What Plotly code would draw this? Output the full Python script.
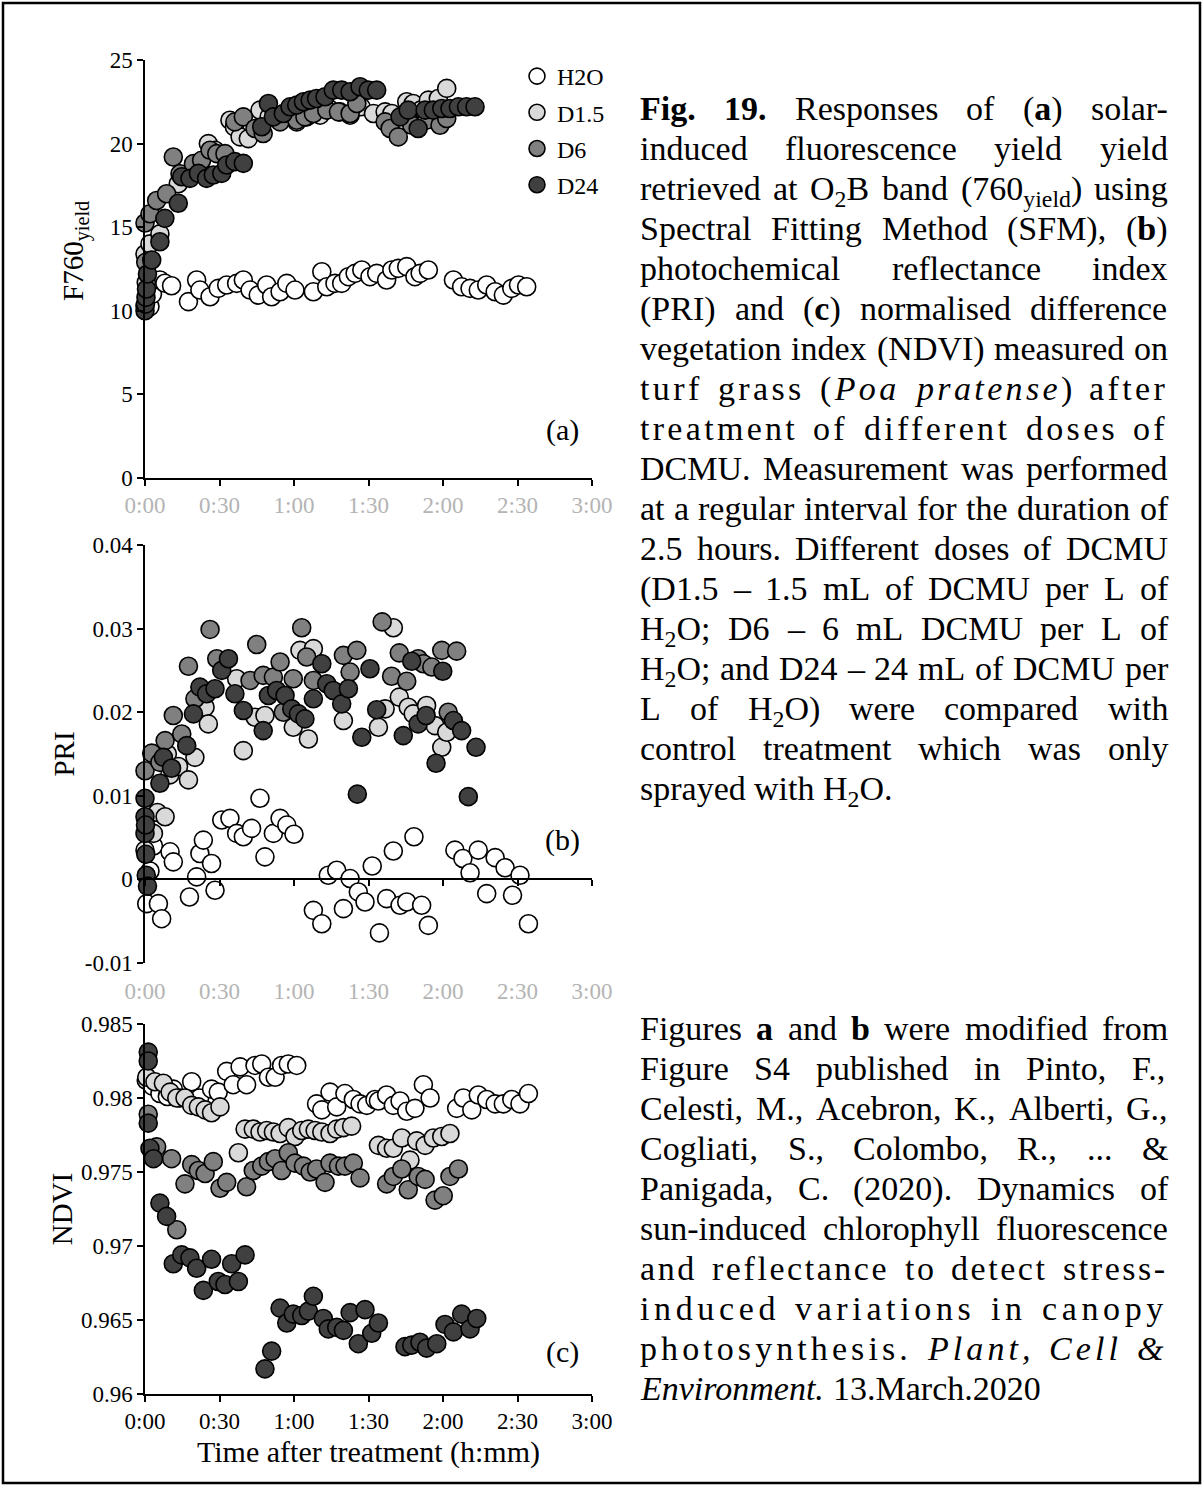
import re
import plotly.graph_objects as go

W, H = 1203, 1486

# ---------------- DATA (time in minutes after treatment) ----------------
# Panel (a) F760 yield
a_h2o_t = [0, 1, 2, 3, 6, 8, 10.7, 17.5, 20.8, 22.1, 26.2, 29.5, 32.9, 36.9, 39.6, 42.3, 45.6, 49, 51, 54.4, 57.1, 60.4, 67.8, 71.2, 73.2, 76.5, 79.2, 81.9, 84.6, 87.3, 90.6, 93.3, 97.3, 99.4, 102, 105.4, 108.7, 110.8, 114.1, 124.2, 127.5, 130.9, 134.2, 137.6, 141, 144.3, 147.7, 150.4, 153.7]
a_h2o_v = [10.3, 10.6, 10.25, 11.0, 11.84, 11.65, 11.5, 10.55, 11.84, 11.24, 10.84, 11.34, 11.54, 11.64, 11.84, 11.24, 10.94, 11.54, 10.84, 11.14, 11.64, 11.24, 11.14, 12.34, 11.44, 11.64, 11.64, 12.04, 12.24, 12.44, 12.04, 12.24, 11.84, 12.44, 12.54, 12.64, 12.04, 12.24, 12.44, 11.84, 11.44, 11.34, 11.24, 11.54, 11.14, 10.94, 11.34, 11.54, 11.44]
a_d15_t = [0, 0.5, 2, 6, 13.4, 17, 22.1, 25.5, 28.2, 34.2, 36, 38.3, 41.6, 46.3, 50, 54.4, 58, 61.1, 65.1, 70.5, 74, 78.5, 82.6, 87, 92, 96.7, 99.4, 105.4, 108, 111, 114.1, 118.1, 121.5]
a_d15_v = [13.4, 11.7, 14.0, 14.6, 17.6, 18.0, 18.8, 20.0, 19.6, 21.4, 21.0, 20.4, 20.3, 22.0, 21.6, 21.4, 21.8, 21.3, 21.6, 21.7, 22.1, 21.9, 21.7, 22.2, 21.8, 21.9, 21.8, 22.5, 22.4, 22.0, 22.6, 22.7, 23.3]
a_d6_t = [0, 0.3, 2, 4.7, 8.7, 11.4, 14.1, 19.5, 22.8, 26.2, 28.9, 32.2, 36.2, 39.6, 44.3, 47.6, 54.4, 61.1, 64.4, 67.8, 73.2, 77.9, 82.6, 85.3, 96.7, 98.7, 102, 106, 107.4, 113.4, 118.8, 121.5]
a_d6_v = [15.25, 12.9, 15.8, 16.6, 17.0, 19.2, 18.2, 18.8, 19.0, 19.6, 19.4, 19.4, 21.3, 21.6, 20.9, 20.6, 21.3, 21.4, 21.6, 21.8, 22.0, 21.9, 21.8, 22.4, 21.3, 20.9, 20.4, 21.5, 21.1, 21.4, 21.1, 21.5]
a_d24_t = [0, 0.2, 0.4, 0.6, 1, 2.7, 6, 8, 13.4, 14.8, 18.1, 21.5, 24.8, 27.5, 30.9, 32.9, 36.2, 39.6, 47, 49.7, 51.7, 55.7, 58.4, 61.1, 63.8, 66.5, 69.1, 72.5, 75.8, 79.2, 82.6, 86.6, 89.9, 93.3, 102.7, 106, 110, 112.8, 116.1, 119.5, 122.8, 126.2, 129.5, 132.9]
a_d24_v = [10.0, 10.4, 10.8, 11.3, 12.2, 13.04, 14.13, 15.53, 16.43, 18.02, 17.92, 18.22, 17.92, 18.12, 18.22, 18.72, 18.92, 18.82, 21.01, 22.4, 21.6, 21.8, 22.2, 22.3, 22.5, 22.6, 22.7, 22.8, 23.2, 23.2, 23.1, 23.4, 23.2, 23.2, 21.6, 22.0, 20.9, 22.0, 22.0, 22.1, 22.1, 22.2, 22.2, 22.2]

# Panel (b) PRI
b_h2o_t = [0.7, 2, 3.4, 5.4, 6.7, 10.1, 11.4, 17.9, 20.8, 22.1, 23.5, 26.8, 28.2, 30.9, 34.2, 36.9, 39.6, 42.9, 46.3, 48.3, 51.7, 54.4, 57.1, 60, 67.8, 71.2, 73.8, 77.2, 79.9, 82.6, 85.9, 88.6, 91.5, 94.4, 97.3, 100, 102.7, 105.4, 108.3, 111.4, 114.1, 124.8, 128, 130.9, 134.2, 137.6, 141, 145, 148, 151, 154.4]
b_h2o_v = [-0.0029, 0.0010, 0.0040, -0.0029, -0.0047, 0.0033, 0.0021, -0.0021, 0.0003, 0.0031, 0.0047, 0.0019, -0.0013, 0.0071, 0.0073, 0.0055, 0.0051, 0.0061, 0.0097, 0.0027, 0.0055, 0.0073, 0.0065, 0.0054, -0.0037, -0.0053, 0.0005, 0.0011, -0.0035, 0.0001, -0.0015, -0.0027, 0.0016, -0.0064, -0.0023, 0.0034, -0.0031, -0.0027, 0.0051, -0.0031, -0.0055, 0.0035, 0.0025, 0.0008, 0.0035, -0.0017, 0.0026, 0.0014, -0.0019, 0.0005, -0.0053]
b_d15_t = [0, 1, 3.4, 5, 8.1, 9, 10, 13.5, 17.5, 20.1, 24.2, 25.5, 36.9, 39.6, 44.3, 48.3, 59.7, 62.4, 65.8, 67.8, 79.9, 94, 96.7, 100, 102.4, 106, 108, 113.4, 116.8, 119.5, 121.5]
b_d15_v = [0.0035, 0.0060, 0.0055, 0.0080, 0.0075, 0.0150, 0.0125, 0.0135, 0.0119, 0.0146, 0.0206, 0.0186, 0.0240, 0.0154, 0.0194, 0.0196, 0.0182, 0.0274, 0.0168, 0.0276, 0.0190, 0.0182, 0.0204, 0.0301, 0.0218, 0.0206, 0.0198, 0.0208, 0.0184, 0.0158, 0.0176]
b_d6_t = [0, 2.7, 6, 8.1, 11.4, 14.8, 17.5, 20.1, 26.2, 28.9, 42.3, 45, 47.6, 51.7, 54.4, 55.7, 59.7, 63.1, 65.1, 67.8, 79.9, 82.6, 85.3, 95.5, 99.3, 102.4, 105.4, 110, 112.1, 115.5, 119.5, 122.1, 125.5]
b_d6_v = [0.0130, 0.0151, 0.0140, 0.0166, 0.0196, 0.0174, 0.0255, 0.0216, 0.0299, 0.0264, 0.0238, 0.0281, 0.0244, 0.0242, 0.0260, 0.0200, 0.0240, 0.0301, 0.0266, 0.0238, 0.0268, 0.0248, 0.0274, 0.0308, 0.0243, 0.0271, 0.0237, 0.0264, 0.0258, 0.0254, 0.0274, 0.0200, 0.0273]
b_d24_t = [0, 0, 0, 0.2, 0.3, 0.5, 1, 6, 7.4, 10.7, 16.8, 19.5, 22.1, 24.8, 28.2, 30.9, 33.6, 36.2, 39.6, 47.6, 49.7, 53, 56.4, 59.1, 61.8, 64.4, 67.8, 71.2, 73.2, 75.8, 79.2, 81.9, 85.5, 87.3, 90.6, 93.3, 104, 107.4, 110, 113.2, 117.2, 119.9, 124.2, 127.5, 130.2, 133.3]
b_d24_v = [0.0097, 0.0075, 0.0055, 0.0065, 0.0030, 0.0005, -0.0008, 0.0115, 0.0146, 0.0133, 0.0160, 0.0198, 0.0230, 0.0222, 0.0228, 0.0250, 0.0264, 0.0222, 0.0202, 0.0178, 0.0220, 0.0226, 0.0220, 0.0204, 0.0198, 0.0192, 0.0216, 0.0258, 0.0234, 0.0226, 0.0210, 0.0228, 0.0102, 0.0170, 0.0252, 0.0203, 0.0172, 0.0261, 0.0186, 0.0196, 0.0139, 0.0249, 0.0190, 0.0178, 0.0099, 0.0158]

# Panel (c) NDVI
c_h2o_t = [0.5, 3, 6, 9, 11.4, 14, 18.8, 22, 26.8, 29.5, 32.9, 35.5, 38.3, 40.9, 44.3, 47, 49.7, 52.4, 55, 57.7, 61.1, 69.1, 71.2, 74.5, 77.2, 80.5, 83.9, 86.6, 89.3, 92.6, 94, 97.3, 100, 102.7, 105.4, 108.7, 112.1, 114.8, 125.5, 128.2, 131.6, 134.2, 137.6, 141, 144.3, 147.7, 151, 154.4]
c_h2o_v = [0.9812, 0.9808, 0.9803, 0.9801, 0.9806, 0.9800, 0.9811, 0.9800, 0.9806, 0.9804, 0.9818, 0.9809, 0.9821, 0.9809, 0.9822, 0.9823, 0.9814, 0.9814, 0.9822, 0.9823, 0.9822, 0.9796, 0.9792, 0.9804, 0.9794, 0.9803, 0.9799, 0.9796, 0.9795, 0.9799, 0.9798, 0.9802, 0.9795, 0.9798, 0.9791, 0.9793, 0.9809, 0.9800, 0.9793, 0.9800, 0.9792, 0.9802, 0.9799, 0.9796, 0.9796, 0.9799, 0.9796, 0.9803]
c_d15_t = [0.7, 4, 7.4, 10.1, 12.8, 16.1, 18.8, 21.5, 24.2, 26.8, 30.2, 37.6, 40.3, 43.6, 46.3, 49, 51.7, 54.4, 57.7, 60.4, 63.1, 65.8, 68.5, 71.2, 74.5, 77.2, 79.9, 83.2, 94, 97.3, 100, 103.4, 106.7, 109.4, 112.8, 116.1, 119.5, 122.8]
c_d15_v = [0.9814, 0.9811, 0.9810, 0.9804, 0.9800, 0.9800, 0.9795, 0.9794, 0.9792, 0.9790, 0.9794, 0.9763, 0.9779, 0.9779, 0.9777, 0.9778, 0.9777, 0.9776, 0.9780, 0.9774, 0.9778, 0.9779, 0.9778, 0.9777, 0.9776, 0.9779, 0.9780, 0.9781, 0.9768, 0.9766, 0.9766, 0.9773, 0.9758, 0.9771, 0.9768, 0.9773, 0.9774, 0.9776]
c_d6_t = [1.3, 4.7, 10.7, 12.8, 16.1, 18.8, 21.5, 24.2, 27.5, 30.2, 32.9, 40.9, 43.6, 47, 49.7, 52.4, 55, 57.7, 60.4, 63.8, 66.5, 69.1, 72.5, 74.5, 77.9, 80.5, 83.9, 86.6, 97.3, 100, 103.4, 106, 110, 112.8, 116.8, 120.1, 122.8, 126.2]
c_d6_v = [0.9789, 0.9767, 0.9759, 0.9711, 0.9742, 0.9755, 0.9751, 0.9749, 0.9757, 0.9739, 0.9743, 0.9740, 0.9751, 0.9754, 0.9757, 0.9759, 0.9751, 0.9763, 0.9756, 0.9754, 0.9750, 0.9752, 0.9743, 0.9756, 0.9754, 0.9754, 0.9756, 0.9746, 0.9742, 0.9747, 0.9752, 0.9738, 0.9747, 0.9745, 0.9731, 0.9734, 0.9747, 0.9752]
c_d24_t = [1.3, 1.3, 1.3, 2, 3.4, 6, 8.7, 11.4, 14.8, 18.1, 20.8, 23.5, 26.8, 29.5, 32.2, 34.9, 37.6, 40.3, 48.3, 51, 54.4, 57.1, 59.7, 63.1, 65.8, 67.8, 71.8, 73.8, 77.2, 79.9, 82.6, 85.9, 88.6, 91.3, 94, 104.7, 107.4, 110.7, 113.4, 117.5, 120.8, 124.2, 127.5, 130.9, 133.6]
c_d24_v = [0.9831, 0.9825, 0.9783, 0.9766, 0.9759, 0.9729, 0.9720, 0.9688, 0.9694, 0.9692, 0.9685, 0.9670, 0.9691, 0.9676, 0.9674, 0.9688, 0.9676, 0.9694, 0.9617, 0.9629, 0.9658, 0.9648, 0.9654, 0.9653, 0.9656, 0.9666, 0.9651, 0.9644, 0.9645, 0.9643, 0.9655, 0.9634, 0.9657, 0.9641, 0.9648, 0.9632, 0.9633, 0.9635, 0.9631, 0.9634, 0.9647, 0.9642, 0.9654, 0.9644, 0.9651]

series_names = ["H2O", "D1.5", "D6", "D24"]
series_colors = ["#ffffff", "#d9d9d9", "#808080", "#404040"]

x_tickvals = [0, 30, 60, 90, 120, 150, 180]
x_ticktext = ["0:00", "0:30", "1:00", "1:30", "2:00", "2:30", "3:00"]
ya_tickvals = [0, 5, 10, 15, 20, 25]
ya_ticktext = ["0", "5", "10", "15", "20", "25"]
yb_tickvals = [-0.01, 0, 0.01, 0.02, 0.03, 0.04]
yb_ticktext = ["-0.01", "0", "0.01", "0.02", "0.03", "0.04"]
yc_tickvals = [0.96, 0.965, 0.97, 0.975, 0.98, 0.985]
yc_ticktext = ["0.96", "0.965", "0.97", "0.975", "0.98", "0.985"]

# ---------------- LAYOUT GEOMETRY (pixels) ----------------
PX_L, PX_R = 145, 592
A_TOP, A_BOT = 60, 478
B_TOP, B_BOT = 545, 963
C_TOP, C_BOT = 1024, 1394

def dx(a, b):
    return [a / W, b / W]

def dy(top, bot):
    return [1 - bot / H, 1 - top / H]

SERIF = "Liberation Serif"
fig = go.Figure()

panels = [
    ("x", "y", [(a_h2o_t, a_h2o_v), (a_d15_t, a_d15_v), (a_d6_t, a_d6_v), (a_d24_t, a_d24_v)]),
    ("x2", "y2", [(b_h2o_t, b_h2o_v), (b_d15_t, b_d15_v), (b_d6_t, b_d6_v), (b_d24_t, b_d24_v)]),
    ("x3", "y3", [(c_h2o_t, c_h2o_v), (c_d15_t, c_d15_v), (c_d6_t, c_d6_v), (c_d24_t, c_d24_v)]),
]
for pi, (xa, ya, data) in enumerate(panels):
    for si, (ts, vs) in enumerate(data):
        fig.add_trace(go.Scatter(
            x=ts, y=vs, mode="markers", name=series_names[si],
            xaxis=xa, yaxis=ya, cliponaxis=False,
            legendgroup=series_names[si], showlegend=(pi == 0),
            marker=dict(size=18, color=series_colors[si],
                        line=dict(color="black", width=1.6)),
        ))

# overlay axis carrying the zero line of panel (b)
fig.add_trace(go.Scatter(x=[None], y=[None], xaxis="x4", yaxis="y2",
                         showlegend=False, hoverinfo="skip", mode="markers"))

faint_font = dict(family=SERIF, size=23, color="#b4b4b4")
black_font = dict(family=SERIF, size=23, color="black")
title_font = dict(family=SERIF, size=29, color="black")

ax_line = dict(showline=True, linecolor="black", linewidth=1.5, ticks="outside",
               ticklen=6, tickwidth=1.5, tickcolor="black", showgrid=False,
               zeroline=False, automargin=False)

xcommon = dict(range=[0, 180], tickvals=x_tickvals, ticktext=x_ticktext, type="linear")

b_range = [-0.01, 0.04]
b_dom = dy(B_TOP, B_BOT)
zero_pos = b_dom[0] + (0 - b_range[0]) / (b_range[1] - b_range[0]) * (b_dom[1] - b_dom[0])

fig.update_layout(
    width=W, height=H, autosize=False,
    margin=dict(l=0, r=0, t=0, b=0, pad=0),
    paper_bgcolor="white", plot_bgcolor="white",
    font=dict(family=SERIF, color="black"),
    xaxis=dict(domain=dx(PX_L, PX_R), anchor="y", tickfont=faint_font, **xcommon, **ax_line),
    yaxis=dict(domain=dy(A_TOP, A_BOT), anchor="x", range=[0, 25],
               tickvals=ya_tickvals, ticktext=ya_ticktext, tickfont=black_font,
               title=dict(text="&#160;&#160;&#160;&#160;&#160;F760<sub>yield</sub>",
                          font=title_font, standoff=18),
               **ax_line),
    xaxis2=dict(domain=dx(PX_L, PX_R), anchor="y2", tickfont=faint_font, **xcommon,
                showline=False, ticks="", showgrid=False, zeroline=False, automargin=False,
                ticklabelstandoff=12),
    xaxis4=dict(domain=dx(PX_L, PX_R), overlaying="x2", anchor="free", position=zero_pos,
                showticklabels=False, **xcommon, **ax_line),
    yaxis2=dict(domain=b_dom, anchor="x2", range=b_range,
                tickvals=yb_tickvals, ticktext=yb_ticktext, tickfont=black_font,
                title=dict(text="PRI", font=title_font, standoff=2),
                **ax_line),
    xaxis3=dict(domain=dx(PX_L, PX_R), anchor="y3", tickfont=black_font, **xcommon,
                title=dict(text="Time after treatment (h:mm)", font=dict(family=SERIF, size=30), standoff=8),
                **ax_line),
    yaxis3=dict(domain=dy(C_TOP, C_BOT), anchor="x3", range=[0.96, 0.985],
                tickvals=yc_tickvals, ticktext=yc_ticktext, tickfont=black_font,
                title=dict(text="NDVI", font=title_font, standoff=0),
                **ax_line),
    legend=dict(x=517 / W, y=1 - 54 / H, xanchor="left", yanchor="top",
                font=dict(family=SERIF, size=24, color="black"),
                bgcolor="rgba(0,0,0,0)", tracegroupgap=2, itemwidth=30,
                traceorder="grouped"),
    showlegend=True,
)

# panel letters
for lab, ypx in [("(a)", 430), ("(b)", 840), ("(c)", 1352)]:
    fig.add_annotation(x=562 / W, y=1 - ypx / H, xref="paper", yref="paper",
                       text=lab, showarrow=False, xanchor="center", yanchor="middle",
                       font=dict(family=SERIF, size=30, color="black"))

# outer frame
fig.add_shape(type="rect", xref="paper", yref="paper",
              x0=3 / W, x1=1 - 3 / W, y0=3 / H, y1=1 - 3 / H,
              line=dict(color="black", width=2.5), fillcolor="rgba(0,0,0,0)", layer="above")

# ---------------- CAPTION (justified text) ----------------
REG = {' ': 250, '!': 333, '&': 778, "'": 333, '(': 333, ')': 333, ',': 250, '-': 333,
       '.': 250, '/': 278, ':': 278, ';': 278, '?': 444, '–': 500,
       'A': 722, 'B': 667, 'C': 667, 'D': 722, 'E': 611, 'F': 556, 'G': 722, 'H': 722,
       'I': 333, 'J': 389, 'K': 722, 'L': 611, 'M': 889, 'N': 722, 'O': 722, 'P': 556,
       'Q': 722, 'R': 667, 'S': 556, 'T': 611, 'U': 722, 'V': 722, 'W': 944, 'X': 722,
       'Y': 722, 'Z': 611,
       'a': 444, 'b': 500, 'c': 444, 'd': 500, 'e': 444, 'f': 333, 'g': 500, 'h': 500,
       'i': 278, 'j': 278, 'k': 500, 'l': 278, 'm': 778, 'n': 500, 'o': 500, 'p': 500,
       'q': 500, 'r': 333, 's': 389, 't': 278, 'u': 500, 'v': 500, 'w': 722, 'x': 500,
       'y': 500, 'z': 444}
for d in "0123456789":
    REG[d] = 500
BOLD = {'F': 611, 'i': 278, 'g': 500, '.': 250, 'a': 500, 'b': 556, 'c': 444}
ITAL = {'P': 611, 'o': 500, 'a': 500, 'p': 500, 'r': 389, 't': 278, 'e': 444, 'n': 500,
        's': 389, 'l': 278, 'C': 667, '&': 778, 'E': 611, 'v': 444, 'i': 278, 'm': 722,
        ',': 250, '.': 250}

def measure(word, size):
    total, n = 0.0, 0
    bold = ital = sub = False
    for tok in re.split(r'(<[^>]+>)', word):
        if tok.startswith('<'):
            t = tok.lower()
            if t == '<b>':
                bold = True
            elif t == '</b>':
                bold = False
            elif t == '<i>':
                ital = True
            elif t == '</i>':
                ital = False
            elif t == '<sub>':
                sub = True
            elif t == '</sub>':
                sub = False
            continue
        tok = tok.replace('&amp;', '&')
        for ch in tok:
            if bold:
                w = BOLD.get(ch, REG.get(ch, 500))
            elif ital:
                w = ITAL.get(ch, REG.get(ch, 500))
            else:
                w = REG.get(ch, 500)
            total += w / 1000.0 * size * (0.7 if sub else 1.0)
            n += 1
    return total, n

CAP_F = 34
CAP_L, CAP_R = 640, 1168
LINE_H = 40

para1 = [
    (["<b>Fig.</b>", "<b>19.</b>", "Responses", "of", "(<b>a</b>)", "solar-"], "j"),
    (["induced", "fluorescence", "yield", "yield"], "j"),
    (["retrieved", "at", "O<sub>2</sub>B", "band", "(760<sub>yield</sub>)", "using"], "j"),
    (["Spectral", "Fitting", "Method", "(SFM),", "(<b>b</b>)"], "j"),
    (["photochemical", "reflectance", "index"], "j"),
    (["(PRI)", "and", "(<b>c</b>)", "normalised", "difference"], "j"),
    (["vegetation", "index", "(NDVI)", "measured", "on"], "j"),
    (["turf", "grass", "(<i>Poa</i>", "<i>pratense</i>)", "after"], "s"),
    (["treatment", "of", "different", "doses", "of"], "s"),
    (["DCMU.", "Measurement", "was", "performed"], "j"),
    (["at", "a", "regular", "interval", "for", "the", "duration", "of"], "j"),
    (["2.5", "hours.", "Different", "doses", "of", "DCMU"], "j"),
    (["(D1.5", "–", "1.5", "mL", "of", "DCMU", "per", "L", "of"], "j"),
    (["H<sub>2</sub>O;", "D6", "–", "6", "mL", "DCMU", "per", "L", "of"], "j"),
    (["H<sub>2</sub>O;", "and", "D24", "–", "24", "mL", "of", "DCMU", "per"], "j"),
    (["L", "of", "H<sub>2</sub>O)", "were", "compared", "with"], "j"),
    (["control", "treatment", "which", "was", "only"], "j"),
    (["sprayed", "with", "H<sub>2</sub>O."], "l"),
]
para2 = [
    (["Figures", "<b>a</b>", "and", "<b>b</b>", "were", "modified", "from"], "j"),
    (["Figure", "S4", "published", "in", "Pinto,", "F.,"], "j"),
    (["Celesti,", "M.,", "Acebron,", "K.,", "Alberti,", "G.,"], "j"),
    (["Cogliati,", "S.,", "Colombo,", "R.,", "...", "&amp;"], "j"),
    (["Panigada,", "C.", "(2020).", "Dynamics", "of"], "j"),
    (["sun-induced", "chlorophyll", "fluorescence"], "j"),
    (["and", "reflectance", "to", "detect", "stress-"], "s"),
    (["induced", "variations", "in", "canopy"], "s"),
    (["photosynthesis.", "<i>Plant,</i>", "<i>Cell</i>", "<i>&amp;</i>"], "s"),
    (["<i>Environment.</i>", "13.March.2020"], "l"),
]

def place_line(words, mode, yc):
    widths, counts = [], []
    for w in words:
        ww, nn = measure(w, CAP_F)
        widths.append(ww)
        counts.append(nn)
    ls = 0.0
    if mode == "s":
        nchar = sum(counts)
        ls = max(0.0, (CAP_R - CAP_L - sum(widths) - (len(words) - 1) * 0.45 * CAP_F) / nchar)
    widths = [w + c * ls for w, c in zip(widths, counts)]
    if mode == "l" or len(words) == 1:
        gap = 0.25 * CAP_F
    else:
        gap = (CAP_R - CAP_L - sum(widths)) / (len(words) - 1)
    x = CAP_L
    top = yc - 0.58 * CAP_F
    for w, ww in zip(words, widths):
        txt = w if ls == 0 else '<span style="letter-spacing:%.2fpx">%s</span>' % (ls, w)
        fig.add_annotation(x=x / W, y=1 - top / H, xref="paper", yref="paper",
                           xanchor="left", yanchor="top", text=txt, showarrow=False,
                           borderpad=0, borderwidth=0,
                           font=dict(family=SERIF, size=CAP_F, color="black"))
        x += ww + gap

for i, (words, mode) in enumerate(para1):
    place_line(words, mode, 110 + LINE_H * i)
for i, (words, mode) in enumerate(para2):
    place_line(words, mode, 1030 + LINE_H * i)

fig.write_html("out.html")
